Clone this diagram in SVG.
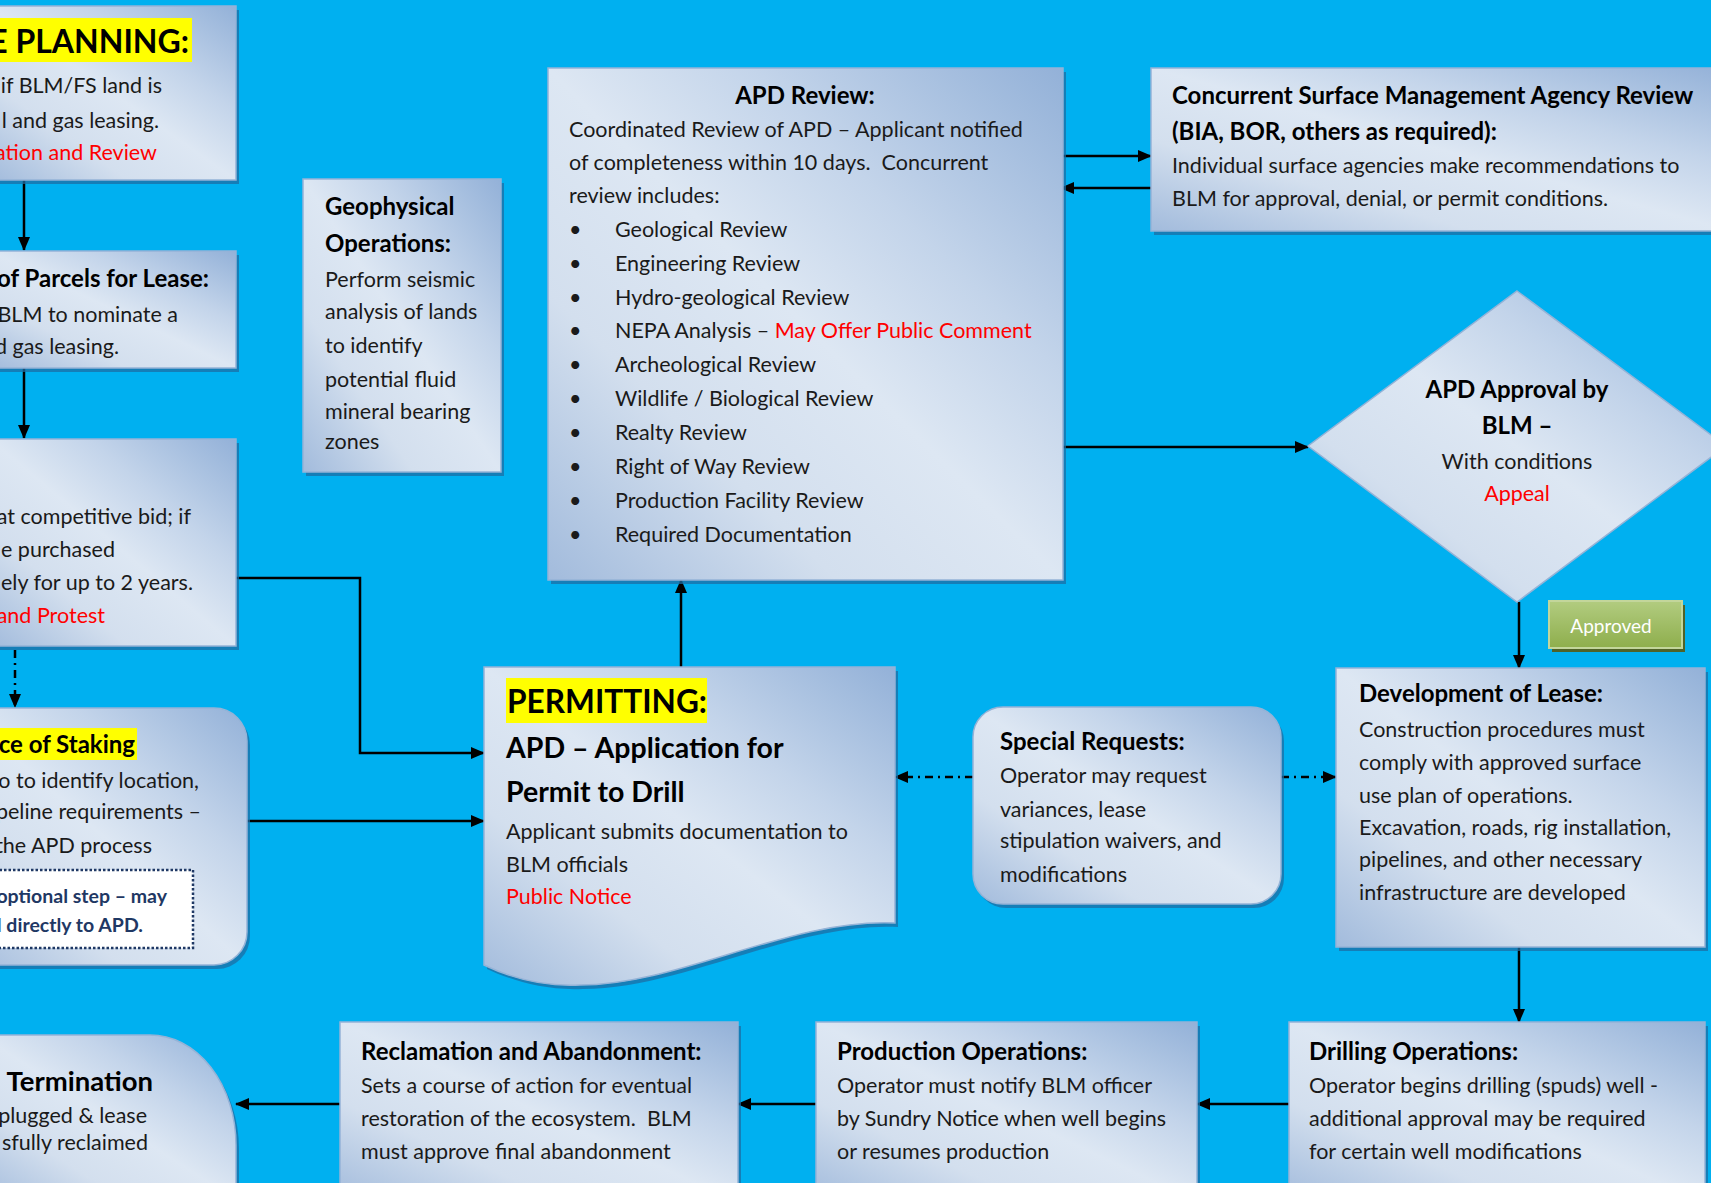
<svg xmlns="http://www.w3.org/2000/svg" width="1711" height="1183" viewBox="0 0 1711 1183">
<defs>
<linearGradient id="g" x1="1" y1="0" x2="0" y2="1">
<stop offset="0" stop-color="#93b1d8"/>
<stop offset="0.3" stop-color="#c3d4ea"/>
<stop offset="0.5" stop-color="#dde7f3"/>
<stop offset="0.72" stop-color="#d3dfee"/>
<stop offset="1" stop-color="#a2bbdc"/>
</linearGradient>
<linearGradient id="gg" x1="0" y1="0" x2="0" y2="1">
<stop offset="0" stop-color="#b2cc80"/>
<stop offset="1" stop-color="#8eae4c"/>
</linearGradient>
<marker id="ah" viewBox="0 0 14 12" refX="13" refY="6" markerWidth="14" markerHeight="12" markerUnits="userSpaceOnUse" orient="auto">
<path d="M0,0 L14,6 L0,12 Z" fill="#000"/>
</marker>
<style>
.bx{fill:url(#g);stroke:#95b3d7;stroke-width:1.5}
.sh{fill:#1c6ea4;opacity:0.75}
.t{font-family:Lato,"Liberation Sans",sans-serif;font-size:21.5px;fill:#1a1a1a}
.b{font-weight:bold;fill:#000;font-size:24px}
.r{fill:#ff0000}
.c{text-anchor:middle}
.e{text-anchor:end}
.hl{fill:#ffff00}
.ln{fill:none;stroke:#000;stroke-width:2.5}
.dd{stroke-dasharray:8 5 2 5}
</style>
</defs>
<rect x="0" y="0" width="1711" height="1183" fill="#00b0f0"/>

<g id="connectors">
<path class="ln" d="M24,180 L24,250" marker-end="url(#ah)"/>
<path class="ln" d="M24,368 L24,438" marker-end="url(#ah)"/>
<path class="ln dd" d="M15,650 L15,707" marker-end="url(#ah)"/>
<path class="ln" d="M236,578 L360,578 L360,753 L484,753" marker-end="url(#ah)"/>
<path class="ln" d="M247,821 L484,821" marker-end="url(#ah)"/>
<path class="ln" d="M681,667 L681,580" marker-end="url(#ah)"/>
<path class="ln" d="M1058,156 L1151,156" marker-end="url(#ah)"/>
<path class="ln" d="M1151,188 L1061,188" marker-end="url(#ah)"/>
<path class="ln" d="M1063,447 L1308,447" marker-end="url(#ah)"/>
<path class="ln" d="M1519,602 L1519,668" marker-end="url(#ah)"/>
<path class="ln dd" d="M973,777 L895,777" marker-end="url(#ah)"/>
<path class="ln dd" d="M1281,777 L1336,777" marker-end="url(#ah)"/>
<path class="ln" d="M1519,947 L1519,1022" marker-end="url(#ah)"/>
<path class="ln" d="M1289,1104 L1197,1104" marker-end="url(#ah)"/>
<path class="ln" d="M816,1104 L738,1104" marker-end="url(#ah)"/>
<path class="ln" d="M340,1104 L236,1104" marker-end="url(#ah)"/>
</g>

<g id="planning">
<rect class="sh" x="-10" y="10" width="249" height="174"/>
<rect class="bx" x="-10" y="6" width="246" height="174"/>
<rect class="hl" x="0" y="18" width="192" height="44"/>
<text class="t b e" x="189" y="53" style="font-size:32px">E PLANNING:</text>
<text class="t e" x="162" y="93">if BLM/FS land is</text>
<text class="t e" x="159" y="128">l and gas leasing.</text>
<text class="t r e" x="157" y="160">ation and Review</text>
</g>

<g id="parcels">
<rect class="sh" x="-10" y="255" width="249" height="117"/>
<rect class="bx" x="-10" y="251" width="246" height="117"/>
<text class="t b e" x="209" y="287">of Parcels for Lease:</text>
<text class="t e" x="178" y="322">BLM to nominate a</text>
<text class="t e" x="119" y="354">d gas leasing.</text>
</g>

<g id="lease-sale">
<rect class="sh" x="-10" y="443" width="249" height="207"/>
<rect class="bx" x="-10" y="439" width="246" height="207"/>
<text class="t e" x="191" y="524">at competitive bid; if</text>
<text class="t" x="1" y="557">e purchased</text>
<text class="t e" x="193" y="590">ely for up to 2 years.</text>
<text class="t r e" x="105" y="623">and Protest</text>
</g>

<g id="staking">
<rect class="sh" x="-40" y="712" width="290" height="257" rx="33"/>
<rect class="bx" x="-40" y="708" width="287" height="257" rx="33"/>
<rect class="hl" x="0" y="728" width="137" height="32"/>
<text class="t b e" x="135" y="753">ce of Staking</text>
<text class="t e" x="199" y="788">o to identify location,</text>
<text class="t e" x="201" y="819">peline requirements –</text>
<text class="t e" x="152" y="853">the APD process</text>
<rect x="-5" y="870" width="198" height="78" fill="#fff" stroke="#1f3864" stroke-width="2.5" stroke-dasharray="2.5 2"/>
<text class="t b e" x="167" y="903" style="fill:#1f3864;font-size:19.5px">optional step – may</text>
<text class="t b e" x="143" y="932" style="fill:#1f3864;font-size:19.5px">d directly to APD.</text>
</g>

<g id="geophysical">
<rect class="sh" x="306" y="183" width="198" height="293"/>
<rect class="bx" x="303" y="179" width="198" height="293"/>
<text class="t b" x="325" y="215">Geophysical</text>
<text class="t b" x="325" y="252">Operations:</text>
<text class="t" x="325" y="287">Perform seismic</text>
<text class="t" x="325" y="319">analysis of lands</text>
<text class="t" x="325" y="353">to identify</text>
<text class="t" x="325" y="387">potential fluid</text>
<text class="t" x="325" y="419">mineral bearing</text>
<text class="t" x="325" y="449">zones</text>
</g>

<g id="apd-review">
<rect class="sh" x="551" y="72" width="515" height="512"/>
<rect class="bx" x="548" y="68" width="515" height="512"/>
<text class="t b c" x="805" y="104">APD Review:</text>
<text class="t" x="569" y="137">Coordinated Review of APD – Applicant notified</text>
<text class="t" x="569" y="170">of completeness within 10 days.&#160; Concurrent</text>
<text class="t" x="569" y="203">review includes:</text>
<text class="t" x="569" y="237">•</text><text class="t" x="615" y="237">Geological Review</text>
<text class="t" x="569" y="271">•</text><text class="t" x="615" y="271">Engineering Review</text>
<text class="t" x="569" y="305">•</text><text class="t" x="615" y="305">Hydro-geological Review</text>
<text class="t" x="569" y="338">•</text><text class="t" x="615" y="338">NEPA Analysis – <tspan class="r">May Offer Public Comment</tspan></text>
<text class="t" x="569" y="372">•</text><text class="t" x="615" y="372">Archeological Review</text>
<text class="t" x="569" y="406">•</text><text class="t" x="615" y="406">Wildlife / Biological Review</text>
<text class="t" x="569" y="440">•</text><text class="t" x="615" y="440">Realty Review</text>
<text class="t" x="569" y="474">•</text><text class="t" x="615" y="474">Right of Way Review</text>
<text class="t" x="569" y="508">•</text><text class="t" x="615" y="508">Production Facility Review</text>
<text class="t" x="569" y="542">•</text><text class="t" x="615" y="542">Required Documentation</text>
</g>

<g id="concurrent">
<rect class="sh" x="1154" y="72" width="580" height="163"/>
<rect class="bx" x="1151" y="68" width="580" height="163"/>
<text class="t b" x="1172" y="104">Concurrent Surface Management Agency Review</text>
<text class="t b" x="1172" y="140">(BIA, BOR, others as required):</text>
<text class="t" x="1172" y="173">Individual surface agencies make recommendations to</text>
<text class="t" x="1172" y="206">BLM for approval, denial, or permit conditions.</text>
</g>

<g id="approval">
<path class="bx" d="M1517,291 L1726,446 L1517,602 L1308,446 Z"/>
<text class="t b c" x="1517" y="398">APD Approval by</text>
<text class="t b c" x="1517" y="434">BLM –</text>
<text class="t c" x="1517" y="469">With conditions</text>
<text class="t r c" x="1517" y="501">Appeal</text>
</g>

<g id="approved">
<rect x="1552" y="605" width="133" height="47" fill="#4f6228"/>
<rect x="1549" y="601" width="133" height="47" fill="url(#gg)" stroke="#c3d69b" stroke-width="2"/>
<text class="t c" x="1611" y="633" style="fill:#fff;font-size:19px">Approved</text>
</g>

<g id="development">
<rect class="sh" x="1339" y="672" width="369" height="279"/>
<rect class="bx" x="1336" y="668" width="369" height="279"/>
<text class="t b" x="1359" y="702">Development of Lease:</text>
<text class="t" x="1359" y="737">Construction procedures must</text>
<text class="t" x="1359" y="770">comply with approved surface</text>
<text class="t" x="1359" y="803">use plan of operations.</text>
<text class="t" x="1359" y="835">Excavation, roads, rig installation,</text>
<text class="t" x="1359" y="867">pipelines, and other necessary</text>
<text class="t" x="1359" y="900">infrastructure are developed</text>
</g>

<g id="special">
<rect class="sh" x="976" y="711" width="308" height="197" rx="30"/>
<rect class="bx" x="973" y="707" width="308" height="197" rx="30"/>
<text class="t b" x="1000" y="750">Special Requests:</text>
<text class="t" x="1000" y="783">Operator may request</text>
<text class="t" x="1000" y="817">variances, lease</text>
<text class="t" x="1000" y="848">stipulation waivers, and</text>
<text class="t" x="1000" y="882">modifications</text>
</g>

<g id="permitting">
<path class="sh" transform="translate(3,4)" d="M484,667 L895,667 L895,923 C790,918 680,985 580,985 C540,987 505,975 484,965 Z"/>
<path class="bx" d="M484,667 L895,667 L895,923 C790,918 680,985 580,985 C540,987 505,975 484,965 Z"/>
<rect class="hl" x="506" y="678" width="201" height="45"/>
<text class="t b" x="507" y="713" style="font-size:31.6px">PERMITTING:</text>
<text class="t b" x="506" y="758" style="font-size:28.5px">APD – Application for</text>
<text class="t b" x="506" y="802" style="font-size:28.5px">Permit to Drill</text>
<text class="t" x="506" y="839">Applicant submits documentation to</text>
<text class="t" x="506" y="872">BLM officials</text>
<text class="t r" x="506" y="904">Public Notice</text>
</g>

<g id="termination">
<path class="sh" transform="translate(3,4)" d="M-20,1035 L150,1035 A86,110 0 0 1 236,1145 L236,1200 L-20,1200 Z"/>
<path class="bx" d="M-20,1035 L150,1035 A86,110 0 0 1 236,1145 L236,1200 L-20,1200 Z"/>
<text class="t b e" x="153" y="1091" style="font-size:27.5px">Termination</text>
<text class="t e" x="147" y="1123">plugged &amp; lease</text>
<text class="t e" x="148" y="1150">sfully reclaimed</text>
</g>

<g id="reclamation">
<rect class="sh" x="343" y="1026" width="398" height="180"/>
<rect class="bx" x="340" y="1022" width="398" height="180"/>
<text class="t b" x="361" y="1060">Reclamation and Abandonment:</text>
<text class="t" x="361" y="1093">Sets a course of action for eventual</text>
<text class="t" x="361" y="1126">restoration of the ecosystem.&#160; BLM</text>
<text class="t" x="361" y="1159">must approve final abandonment</text>
</g>

<g id="production">
<rect class="sh" x="819" y="1026" width="381" height="180"/>
<rect class="bx" x="816" y="1022" width="381" height="180"/>
<text class="t b" x="837" y="1060">Production Operations:</text>
<text class="t" x="837" y="1093">Operator must notify BLM officer</text>
<text class="t" x="837" y="1126">by Sundry Notice when well begins</text>
<text class="t" x="837" y="1159">or resumes production</text>
</g>

<g id="drilling">
<rect class="sh" x="1292" y="1026" width="416" height="180"/>
<rect class="bx" x="1289" y="1022" width="416" height="180"/>
<text class="t b" x="1309" y="1060">Drilling Operations:</text>
<text class="t" x="1309" y="1093">Operator begins drilling (spuds) well -</text>
<text class="t" x="1309" y="1126">additional approval may be required</text>
<text class="t" x="1309" y="1159">for certain well modifications</text>
</g>
</svg>
